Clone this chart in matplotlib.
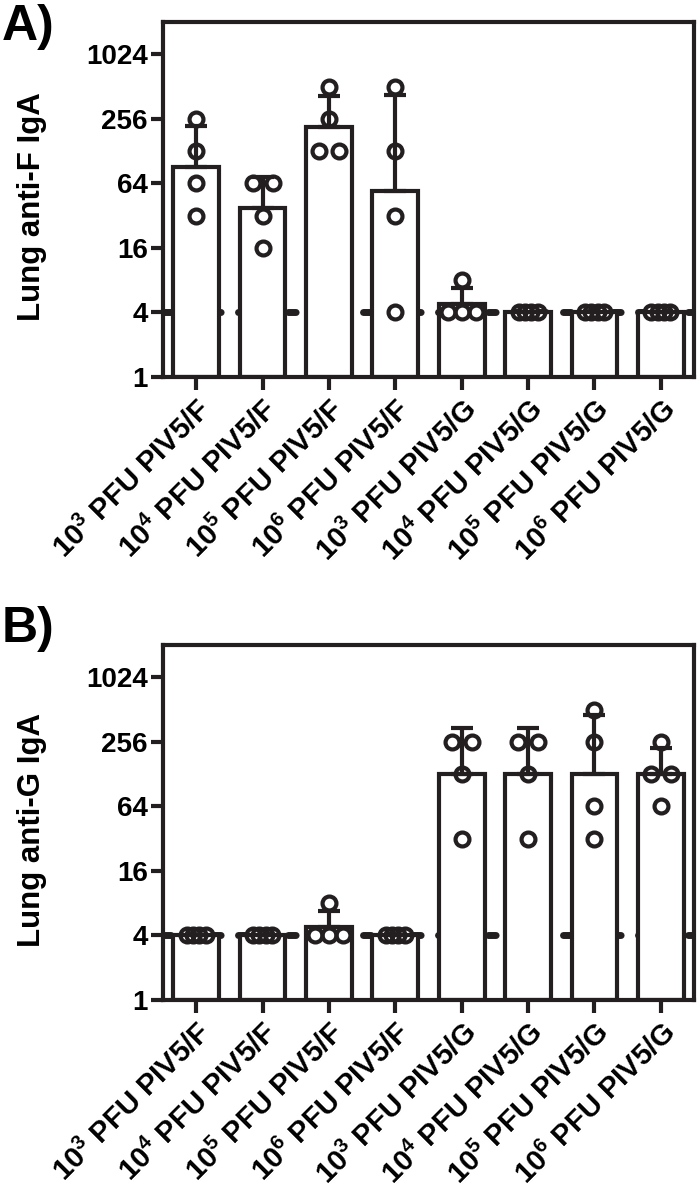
import numpy as np
import matplotlib
matplotlib.use('Agg')
import matplotlib.pyplot as plt

plt.rcParams['font.family'] = ['Liberation Sans', 'DejaVu Sans']
plt.rcParams['font.weight'] = 'bold'
plt.rcParams['mathtext.fontset'] = 'custom'
plt.rcParams['mathtext.rm'] = 'Liberation Sans'
plt.rcParams['lines.scale_dashes'] = False

# groups (x axis)
doses = ['3', '4', '5', '6', '3', '4', '5', '6']
viruses = ['PIV5/F'] * 4 + ['PIV5/G'] * 4
labels = ['10$^{%s}$ PFU %s' % (d, v) for d, v in zip(doses, viruses)]

# individual mouse titers, panel A (anti-F IgA)
antiF = [
    [256, 128, 64, 32],
    [64, 64, 32, 16],
    [512, 256, 128, 128],
    [512, 128, 32, 4],
    [8, 4, 4, 4],
    [4, 4, 4, 4],
    [4, 4, 4, 4],
    [4, 4, 4, 4],
]
# panel B (anti-G IgA)
antiG = [
    [4, 4, 4, 4],
    [4, 4, 4, 4],
    [8, 4, 4, 4],
    [4, 4, 4, 4],
    [256, 256, 128, 32],
    [256, 256, 128, 32],
    [512, 256, 64, 32],
    [256, 128, 128, 64],
]
detection_limit = 4
yticks = [1, 4, 16, 64, 256, 1024]

# horizontal spread of equal values, by how many share a value
spread = {1: 0.0, 2: 0.3, 3: 0.21, 4: 0.095}
ink = '#231f20'


def panel(ax, data, ylabel):
    x = np.arange(len(data))
    logs = [np.log2(d) for d in data]
    gm = np.array([2 ** l.mean() for l in logs])
    sd = np.array([l.std(ddof=1) for l in logs])
    up = 2 ** (np.log2(gm) + sd) - gm

    ax.axhline(detection_limit, color=ink, lw=5, ls=(0, (5.5, 12.5)),
               dash_capstyle='round', zorder=1)
    ax.bar(x, gm - 1, width=0.69, bottom=1, color='white', edgecolor=ink,
           linewidth=3, zorder=2)
    m = sd > 0
    ax.errorbar(x[m], gm[m], yerr=[np.zeros(m.sum()), up[m]], fmt='none',
                ecolor=ink, elinewidth=3, capsize=8, capthick=3, zorder=3)

    for i, vals in enumerate(data):
        vals = np.array(vals)
        for v in np.unique(vals):
            n = (vals == v).sum()
            offs = (np.arange(n) - (n - 1) / 2) * spread[n]
            ax.plot(i + offs, [v] * n, 'o', ms=10, mfc='none', mec=ink,
                    mew=3, zorder=4, clip_on=False)

    ax.set_yscale('log', base=2)
    ax.set_ylim(1, 2048)
    ax.set_xlim(-0.5, 7.5)
    ax.set_yticks(yticks)
    ax.set_yticklabels([str(t) for t in yticks])
    ax.minorticks_off()
    ax.set_xticks(x)
    ax.set_xticklabels(labels, rotation=45, ha='right', rotation_mode='anchor')
    ax.tick_params(axis='both', width=3, length=9, color=ink)
    ax.tick_params(axis='y', labelsize=20, pad=2)
    ax.tick_params(axis='x', labelsize=21, pad=4)
    for s in ax.spines.values():
        s.set_linewidth(3)
        s.set_color(ink)
    ax.set_ylabel(ylabel, fontsize=22.5, fontweight='bold')
    ax.yaxis.set_label_coords(-0.218, 0.48)


fig = plt.figure(figsize=(7, 11.96), dpi=100)
axA = fig.add_axes([163 / 700, 1 - 377 / 1196, 531 / 700, 355 / 1196])
axB = fig.add_axes([163 / 700, 1 - 1000 / 1196, 531 / 700, 355 / 1196])

panel(axA, antiF, 'Lung anti-F IgA')
panel(axB, antiG, 'Lung anti-G IgA')

fig.text(0.002, 1 - 4 / 1196, 'A)', fontsize=36, fontweight='bold', va='top')
fig.text(0.002, 1 - 606 / 1196, 'B)', fontsize=36, fontweight='bold', va='top')

fig.savefig('out.png', dpi=100)
